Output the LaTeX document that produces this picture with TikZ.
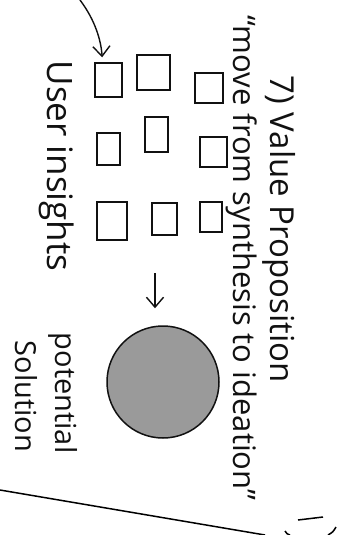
\documentclass[tikz,border=0pt]{standalone}
\usepackage{fontspec}
\setmainfont{Open Sans}
\usetikzlibrary{arrows.meta, positioning}
\definecolor{cink}{HTML}{111111}
\definecolor{cfill}{HTML}{9A9A9A}
\tikzset{
  every picture/.style={line width=1.5pt},
  hand/.style={font=\fontsize{#1}{#1}\selectfont, rotate=-90, anchor=base west, inner sep=0pt, text=cink},
  hand/.default=31,
  card/.style={draw=cink, inner sep=0pt},
  arrow/.style={-{Straight Barb[length=3.5mm, width=6mm]}, draw=cink, line width=1.4pt},
}

\begin{document}
\begin{tikzpicture}[x=1pt, y=-1pt]
  \useasboundingbox (0,0) rectangle (344,535);
  % headings
  \node[hand=33] (title) at (270,75) {7) Value Proposition};
  \node[hand=31] (quote) at (233,15) {“move from synthesis to ideation”};
  \node[hand=35] (insights) at (47,60) {User insights};
  \node[hand=29] (pot) at (55,332) {potential};
  \node[hand=29] (solt) at (16,340) {Solution};
  % sticky notes
  \foreach \i/\x/\y/\w/\h in {1/108.5/80/27/34, 2/108.5/149/23/32, 3/112/221/30/38,
                             4/153.5/72.5/33/35, 5/156.5/134.5/23/35, 6/164.5/219/25/32,
                             7/209/88/28/30, 8/213.5/152/27/30, 9/211/217/22/30}
    \node[card, minimum width=\w pt, minimum height=\h pt] (sq\i) at (\x,\y) {};
  % solution
  \node[circle, draw=cink, fill=cfill, minimum size=112pt, inner sep=0pt] (sol) at (163,382) {};
  \coordinate (penstart) at (80,0);
  \draw[arrow, shorten >=5pt] (penstart) .. controls (95,20) and (101,40) .. ([xshift=-6pt]sq1.north);
  \coordinate (downtop) at (155,273);
  \draw[arrow, shorten >=17pt] (downtop) -- (downtop |- sol.north);
  % page edge
  \coordinate (edgeA) at (0,490);
  \coordinate (edgeB) at (265,535);
  \draw (edgeA) -- (edgeB);
  \draw (298,520) -- (323,517);
  \draw (285,531) .. controls (287,534) .. (290,535);
  \draw (328,535) .. controls (333,532) .. (336,527);
\end{tikzpicture}
\end{document}
